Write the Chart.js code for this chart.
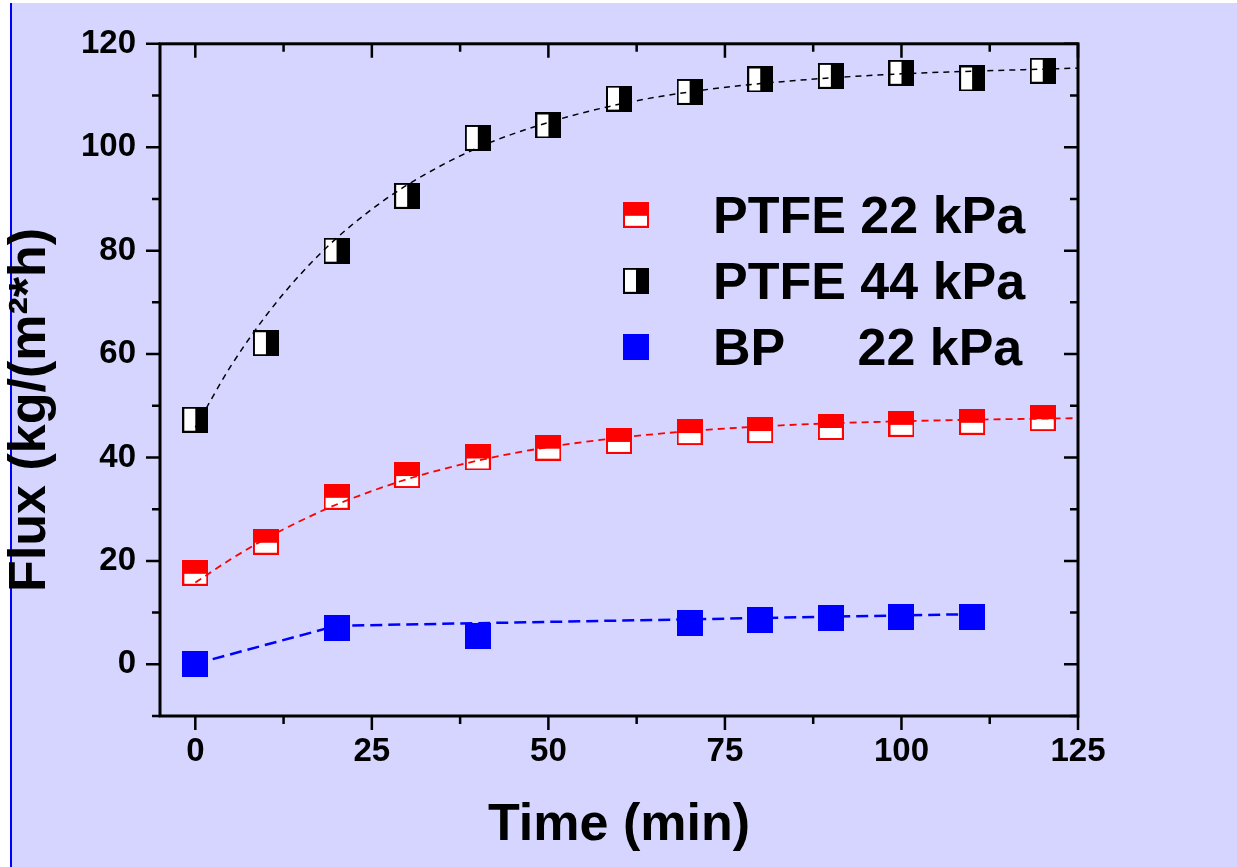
<!DOCTYPE html>
<html>
<head>
<meta charset="utf-8">
<script src="https://cdn.jsdelivr.net/npm/chart.js@4/dist/chart.umd.min.js"></script>
<style>
  html, body { margin: 0; padding: 0; background: #fff; overflow: hidden; }
  #bg { position: absolute; left: 10px; top: 3px; width: 1227px; height: 864px;
        background: rgb(213,213,255); border-left: 2px solid #0000ff; box-sizing: border-box; }
  #wrap { position: absolute; left: 0; top: 0; width: 1237px; height: 867px; }
</style>
</head>
<body>
<div id="bg"></div>
<div id="wrap"><canvas id="c"></canvas></div>
<script>
// measured points
const timeMin = [0, 10, 20, 30, 40, 50, 60, 70, 80, 90, 100, 110, 120];
const ptfe22  = [17.7, 23.7, 32.4, 36.6, 40.0, 41.9, 43.2, 44.9, 45.3, 45.9, 46.5, 46.9, 47.6];
const ptfe44  = [47.3, 62.1, 80.0, 90.6, 101.8, 104.2, 109.4, 110.7, 113.1, 113.8, 114.4, 113.3, 114.8];
const bpTime  = [0, 20, 40, 70, 80, 90, 100, 110];
const bp22    = [0.0, 7.1, 5.4, 7.9, 8.5, 8.9, 9.2, 9.1];

// fitted (dashed) curves
const fitTime  = [0, 5, 10, 15, 20, 25, 30, 40, 50, 60, 70, 80, 90, 100, 110, 120, 125];
const fit22    = [15.8, 20.3, 24.3, 27.8, 30.9, 33.5, 35.8, 39.4, 42.0, 43.8, 45.1, 46.0, 46.6, 47.0, 47.3, 47.5, 47.6];
const fit44    = [45.8, 57.6, 67.4, 75.6, 82.4, 88.0, 92.7, 99.9, 104.8, 108.3, 110.7, 112.3, 113.4, 114.2, 114.7, 115.1, 115.3];
const fitBpTime = [0, 20, 110];
const fitBp     = [0.1, 7.45, 9.7];

const labels  = ['PTFE 22 kPa', 'PTFE 44 kPa', 'BP     22 kPa'];
const xMajor = [0, 25, 50, 75, 100, 125];
const xMinor = [12.5, 37.5, 62.5, 87.5, 112.5];
const yMajor = [0, 20, 40, 60, 80, 100, 120];
const yMinor = [-10, 10, 30, 50, 70, 90, 110];
const xTitle = 'Time (min)';
const yTitle = 'Flux (kg/(m\u00B2*h)';

const FONT = '"Liberation Sans", Arial, sans-serif';
const pts = (xs, ys) => xs.map((x, i) => ({ x, y: ys[i] }));

function marker(kind) {
  const s = 26, c = document.createElement('canvas');
  c.width = s; c.height = s;
  const g = c.getContext('2d');
  if (kind === 'blue') {
    g.fillStyle = '#0000ff'; g.fillRect(0, 0, s, s);
    return c;
  }
  const col = kind === 'red' ? '#ff0000' : '#000000';
  g.fillStyle = '#ffffff'; g.fillRect(0, 0, s, s);
  g.fillStyle = col;
  if (kind === 'red') g.fillRect(0, 0, s, 14);
  else g.fillRect(13, 0, s - 13, s);
  g.strokeStyle = col; g.lineWidth = 2;
  g.strokeRect(1, 1, s - 2, s - 2);
  return c;
}
const mRed = marker('red'), mBlack = marker('black'), mBlue = marker('blue');

const fitLine = (data, color, width, dash, smooth) => ({
  data, showLine: true, borderColor: color, borderWidth: width, borderDash: dash,
  pointRadius: 0, fill: false, order: 0, isFit: true,
  cubicInterpolationMode: smooth ? 'monotone' : 'default', tension: 0
});
const pointSet = (label, data, style) => ({
  label, data, showLine: false, pointStyle: style, pointRadius: 13, order: 1
});

// axis box + ticks (major outward on left/bottom, mirrored inward on top/right)
const framePlugin = {
  id: 'frame',
  afterDatasetsDraw(chart) {
    const { ctx, chartArea: a, scales: { x, y } } = chart;
    ctx.save();
    ctx.strokeStyle = '#000'; ctx.lineWidth = 3;
    ctx.strokeRect(a.left, a.top, a.right - a.left, a.bottom - a.top);
    ctx.lineWidth = 2.5;
    ctx.beginPath();
    const xt = (v, len) => {
      const px = x.getPixelForValue(v);
      ctx.moveTo(px, a.bottom); ctx.lineTo(px, a.bottom + len);
      ctx.moveTo(px, a.top); ctx.lineTo(px, a.top + len);
    };
    const yt = (v, len) => {
      const py = y.getPixelForValue(v);
      ctx.moveTo(a.left - len, py); ctx.lineTo(a.left, py);
      ctx.moveTo(a.right - len, py); ctx.lineTo(a.right, py);
    };
    xMajor.forEach(v => xt(v, 14)); xMinor.forEach(v => xt(v, 8));
    yMajor.forEach(v => yt(v, 14)); yMinor.forEach(v => yt(v, 8));
    ctx.stroke();

    // axis titles
    ctx.fillStyle = '#000';
    ctx.font = 'bold 52px ' + FONT;
    ctx.textAlign = 'center'; ctx.textBaseline = 'middle';
    ctx.fillText(xTitle, (a.left + a.right) / 2, a.bottom + 110);
    ctx.translate(31, (a.top + a.bottom) / 2 + 30);
    ctx.rotate(-Math.PI / 2);
    ctx.fillText(yTitle, 0, 0);
    ctx.restore();
  }
};

// legend inside the plot
const legendPlugin = {
  id: 'insideLegend',
  afterDraw(chart) {
    const { ctx, chartArea: a } = chart;
    const sets = chart.data.datasets.filter(d => !d.isFit);
    ctx.save();
    ctx.font = 'bold 52px ' + FONT;
    ctx.fillStyle = '#000'; ctx.textAlign = 'left'; ctx.textBaseline = 'alphabetic';
    sets.forEach((d, i) => {
      const cy = a.top + 171 + i * 66;
      const img = d.pointStyle;
      ctx.drawImage(img, 636 - img.width / 2, cy - img.height / 2);
      ctx.fillText(d.label, 713, cy + 18.5);
    });
    ctx.restore();
  }
};

new Chart(document.getElementById('c'), {
  type: 'scatter',
  data: {
    datasets: [
      fitLine(pts(fitTime, fit22), '#ff0000', 1.8, [7, 5], true),
      fitLine(pts(fitTime, fit44), '#000000', 1.5, [6, 5], true),
      fitLine(pts(fitBpTime, fitBp), '#0000ff', 2.5, [12, 6], false),
      pointSet(labels[0], pts(timeMin, ptfe22), mRed),
      pointSet(labels[1], pts(timeMin, ptfe44), mBlack),
      pointSet(labels[2], pts(bpTime, bp22), mBlue)
    ]
  },
  options: {
    responsive: true, maintainAspectRatio: false, animation: false, events: [],
    layout: { padding: { top: 42, right: 159, left: 0, bottom: 0 } },
    plugins: { legend: { display: false }, tooltip: { enabled: false } },
    scales: {
      x: {
        type: 'linear', min: -5, max: 125,
        afterBuildTicks: s => { s.ticks = xMajor.map(v => ({ value: v })); },
        afterFit: s => { s.height = 151; },
        grid: { display: false, drawTicks: false }, border: { display: false },
        ticks: { padding: 16, color: '#000', font: { family: FONT, size: 33, weight: 'bold' } }
      },
      y: {
        type: 'linear', min: -10, max: 120,
        afterBuildTicks: s => { s.ticks = yMajor.map(v => ({ value: v })); },
        afterFit: s => { s.width = 160; },
        grid: { display: false, drawTicks: false }, border: { display: false },
        ticks: { padding: 24, color: '#000', font: { family: FONT, size: 33, weight: 'bold' } }
      }
    }
  },
  plugins: [framePlugin, legendPlugin]
});
</script>
</body>
</html>
